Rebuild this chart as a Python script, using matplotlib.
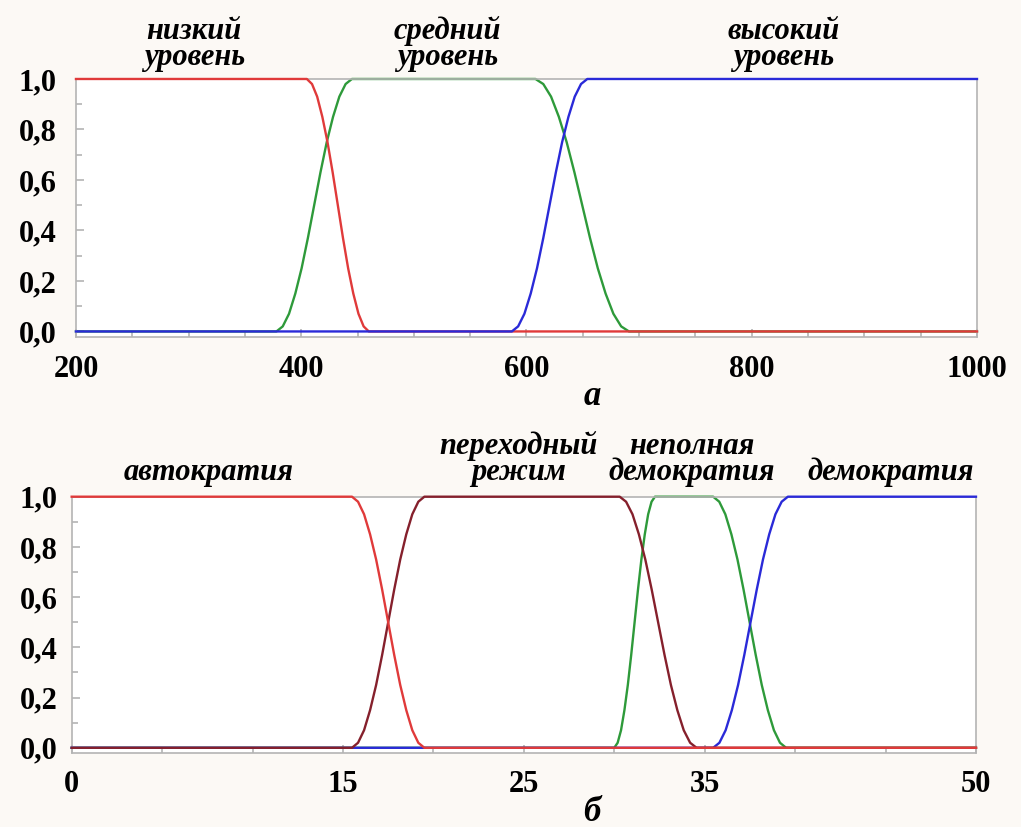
import numpy as np
import matplotlib.pyplot as plt

# shape of each S-shaped transition (share of the rise)
ramp = [0, 0.02, 0.07, 0.15, 0.25, 0.37, 0.5, 0.63, 0.75, 0.85, 0.93, 0.98, 1]

# panel a: start value and (begin, end) of every transition
a_range = (200, 1000)
a_low = (1, [(405, 460)])
a_mid = (0, [(378, 445), (608, 691)])
a_high = (0, [(587, 654)])
a_names = ["низкий\nуровень", "средний\nуровень", "высокий\nуровень"]
a_name_x = [305, 530, 828]

# panel b
b_range = (0, 50)
b_auto = (1, [(15.5, 19.5)])
b_trans = (0, [(15.5, 19.5), (30.3, 34.55)])
b_part = (0, [(30.0, 32.25), (35.47, 39.5)])
b_demo = (0, [(35.47, 39.6)])
b_names = ["автократия", "переходный\nрежим", "неполная\nдемократия", "демократия"]
b_name_x = [7.6, 24.7, 34.3, 45.3]

red = "#e03a3a"
green = "#2e9a3a"
blue = "#2a2ad8"
brown = "#85202c"
gray = "#b4b4b4"
serif = "Liberation Serif"


def curve(spec, xr):
    v, edges = spec
    xs, ys = [xr[0]], [v]
    for x0, x1 in edges:
        xs += list(np.linspace(x0, x1, len(ramp)))
        ys += ramp if v == 0 else [1 - r for r in ramp]
        v = 1 - v
    xs.append(xr[1])
    ys.append(v)
    return xs, ys


def style(ax, xr, ypad, xpad):
    ax.set_xlim(*xr)
    ax.set_ylim(-0.022, 1.0)
    for s in ax.spines.values():
        s.set_color(gray)
        s.set_linewidth(1.2)
    ax.set_yticks(np.arange(0, 1.01, 0.2))
    ax.set_yticklabels(["0,0", "0,2", "0,4", "0,6", "0,8", "1,0"])
    ax.set_yticks(np.arange(0.1, 1.0, 0.2), minor=True)
    ax.tick_params(which="both", direction="in", color=gray, width=1.2)
    ax.tick_params(which="major", length=6)
    ax.tick_params(which="minor", length=4)
    ax.tick_params(axis="y", pad=ypad)
    ax.tick_params(axis="x", pad=xpad)
    for t in ax.get_xticklabels() + ax.get_yticklabels():
        t.set_fontfamily(serif)
        t.set_fontweight("bold")
        t.set_fontsize(22)


fig = plt.figure(figsize=(10.21, 8.27), dpi=100, facecolor="#fcf9f5")
lw = 1.7

# ---- panel a
ax1 = fig.add_axes([0.0744, 0.5925, 0.8825, 0.312])
for spec, c, z in [(a_mid, green, 2), (a_low, red, 3), (a_high, blue, 4)]:
    x, y = curve(spec, a_range)
    ax1.plot(x, y, color=c, lw=lw, zorder=z, clip_on=False)
ax1.set_xticks([200, 400, 600, 800, 1000])
ax1.set_xticks(np.arange(250, 1000, 50), minor=True)
style(ax1, a_range, 14, 13)
for name, xp in zip(a_names, a_name_x):
    ax1.text(xp, 1.027, name, transform=ax1.get_xaxis_transform(), ha="center", va="bottom",
             fontsize=22, fontfamily=serif, fontweight="bold", fontstyle="italic", linespacing=0.85)

# ---- panel b
ax2 = fig.add_axes([0.0702, 0.0891, 0.8857, 0.3103])
for spec, c, z in [(b_part, green, 2), (b_demo, blue, 3), (b_trans, brown, 4), (b_auto, red, 5)]:
    x, y = curve(spec, b_range)
    ax2.plot(x, y, color=c, lw=lw, zorder=z, clip_on=False)
ax2.set_xticks([0, 15, 25, 35, 50])
ax2.set_xticks(np.arange(5, 50, 5), minor=True)
style(ax2, b_range, 10, 12)
for name, xp in zip(b_names, b_name_x):
    ax2.text(xp, 1.038, name, transform=ax2.get_xaxis_transform(), ha="center", va="bottom",
             fontsize=22, fontfamily=serif, fontweight="bold", fontstyle="italic", linespacing=0.85)

fig.text(0.58, 0.521, "а", ha="center", va="center", fontsize=25,
         fontfamily=serif, fontweight="bold", fontstyle="italic")
fig.text(0.58, 0.018, "б", ha="center", va="center", fontsize=25,
         fontfamily=serif, fontweight="bold", fontstyle="italic")

fig.savefig("out.png", dpi=100, facecolor=fig.get_facecolor())
